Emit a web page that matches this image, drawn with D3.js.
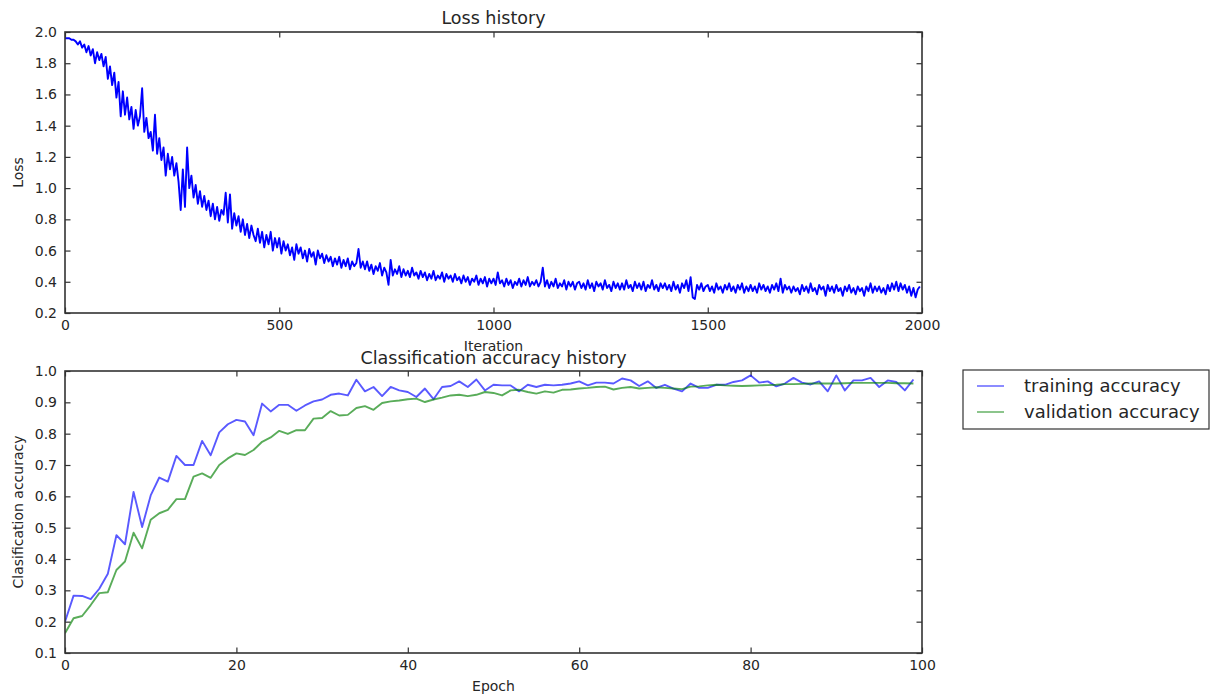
<!DOCTYPE html>
<html>
<head>
<meta charset="utf-8">
<script src="https://cdn.jsdelivr.net/npm/d3@7"></script>
<style>
  body { margin: 0; background: #fff; }
  svg text { font-family: 'DejaVu Sans', sans-serif; fill: #262626; }
</style>
</head>
<body>
<svg id="chart" width="1216" height="698"></svg>
<script>
'use strict'

// loss sampled every 5 iterations, one row per 100 iterations
const lossStep = 5
const lossHistory = [
    1.96, 1.96, 1.96, 1.95, 1.95, 1.94, 1.92, 1.94, 1.90, 1.92, 1.87, 1.91, 1.85, 1.89, 1.80, 1.87, 1.82, 1.86, 1.78, 1.84,
    1.70, 1.78, 1.66, 1.74, 1.58, 1.68, 1.46, 1.62, 1.47, 1.58, 1.44, 1.52, 1.38, 1.50, 1.40, 1.46, 1.64, 1.36, 1.45, 1.32,
    1.36, 1.24, 1.47, 1.22, 1.32, 1.18, 1.26, 1.08, 1.22, 1.12, 1.20, 1.08, 1.16, 1.04, 0.86, 1.12, 0.88, 1.26, 1.00, 1.08,
    0.94, 1.02, 0.90, 0.98, 0.88, 0.95, 0.86, 0.92, 0.82, 0.90, 0.80, 0.88, 0.79, 0.86, 0.83, 0.97, 0.78, 0.96, 0.74, 0.84,
    0.76, 0.82, 0.72, 0.80, 0.70, 0.77, 0.68, 0.76, 0.70, 0.66, 0.74, 0.65, 0.72, 0.62, 0.70, 0.64, 0.72, 0.60, 0.68, 0.62,
    0.68, 0.58, 0.66, 0.60, 0.64, 0.57, 0.62, 0.54, 0.64, 0.58, 0.62, 0.55, 0.60, 0.53, 0.61, 0.56, 0.59, 0.51, 0.60, 0.55,
    0.58, 0.52, 0.57, 0.53, 0.56, 0.50, 0.55, 0.51, 0.56, 0.49, 0.54, 0.50, 0.55, 0.48, 0.53, 0.50, 0.52, 0.61, 0.49, 0.53,
    0.48, 0.53, 0.47, 0.51, 0.45, 0.50, 0.47, 0.52, 0.44, 0.49, 0.46, 0.38, 0.54, 0.44, 0.48, 0.45, 0.50, 0.43, 0.48, 0.44,
    0.47, 0.43, 0.49, 0.44, 0.46, 0.42, 0.47, 0.43, 0.46, 0.41, 0.45, 0.42, 0.47, 0.41, 0.44, 0.42, 0.46, 0.40, 0.45, 0.42,
    0.44, 0.40, 0.45, 0.41, 0.43, 0.39, 0.44, 0.40, 0.43, 0.38, 0.42, 0.40, 0.44, 0.38, 0.42, 0.39, 0.43, 0.37, 0.42, 0.39,
    0.42, 0.38, 0.46, 0.39, 0.41, 0.37, 0.42, 0.38, 0.41, 0.36, 0.40, 0.38, 0.42, 0.37, 0.41, 0.38, 0.43, 0.37, 0.40, 0.38,
    0.41, 0.37, 0.40, 0.49, 0.37, 0.41, 0.36, 0.40, 0.37, 0.42, 0.36, 0.39, 0.37, 0.41, 0.35, 0.40, 0.37, 0.40, 0.35, 0.39,
    0.40, 0.36, 0.39, 0.35, 0.41, 0.36, 0.39, 0.34, 0.40, 0.37, 0.39, 0.35, 0.41, 0.36, 0.38, 0.34, 0.40, 0.36, 0.39, 0.35,
    0.39, 0.35, 0.41, 0.36, 0.38, 0.34, 0.40, 0.36, 0.39, 0.35, 0.40, 0.34, 0.38, 0.36, 0.41, 0.35, 0.38, 0.34, 0.39, 0.36,
    0.39, 0.35, 0.38, 0.34, 0.40, 0.35, 0.38, 0.33, 0.39, 0.36, 0.41, 0.34, 0.43, 0.30, 0.29, 0.38, 0.35, 0.39, 0.34, 0.37,
    0.38, 0.34, 0.37, 0.33, 0.39, 0.35, 0.37, 0.33, 0.38, 0.35, 0.39, 0.34, 0.37, 0.33, 0.38, 0.35, 0.39, 0.33, 0.37, 0.34,
    0.38, 0.34, 0.37, 0.33, 0.39, 0.35, 0.38, 0.34, 0.37, 0.33, 0.38, 0.35, 0.39, 0.34, 0.42, 0.33, 0.38, 0.35, 0.37, 0.33,
    0.37, 0.34, 0.36, 0.32, 0.38, 0.34, 0.37, 0.33, 0.39, 0.34, 0.36, 0.32, 0.38, 0.35, 0.37, 0.31, 0.38, 0.34, 0.37, 0.33,
    0.38, 0.34, 0.36, 0.31, 0.37, 0.34, 0.38, 0.33, 0.36, 0.32, 0.37, 0.34, 0.36, 0.31, 0.37, 0.34, 0.39, 0.33, 0.37, 0.34,
    0.37, 0.33, 0.36, 0.32, 0.38, 0.34, 0.39, 0.35, 0.40, 0.34, 0.39, 0.35, 0.38, 0.33, 0.37, 0.31, 0.36, 0.30, 0.35, 0.37
]

const trainAcc = [
    0.200, 0.283, 0.282, 0.272, 0.305, 0.353, 0.476, 0.447, 0.614, 0.502,
    0.603, 0.660, 0.647, 0.729, 0.700, 0.700, 0.777, 0.731, 0.804, 0.830,
    0.844, 0.839, 0.795, 0.896, 0.871, 0.892, 0.892, 0.873, 0.890, 0.903,
    0.909, 0.924, 0.928, 0.922, 0.972, 0.935, 0.949, 0.920, 0.949, 0.938,
    0.933, 0.917, 0.944, 0.910, 0.949, 0.952, 0.967, 0.949, 0.973, 0.938,
    0.956, 0.954, 0.954, 0.935, 0.956, 0.949, 0.956, 0.954, 0.956, 0.960,
    0.967, 0.954, 0.963, 0.963, 0.960, 0.976, 0.970, 0.952, 0.967, 0.946,
    0.956, 0.944, 0.935, 0.960, 0.946, 0.946, 0.956, 0.956, 0.965, 0.970,
    0.986, 0.963, 0.967, 0.951, 0.960, 0.978, 0.963, 0.957, 0.967, 0.935,
    0.986, 0.938, 0.970, 0.970, 0.978, 0.949, 0.970, 0.965, 0.938, 0.973
]

const valAcc = [
    0.163, 0.211, 0.218, 0.253, 0.291, 0.294, 0.365, 0.392, 0.484, 0.434,
    0.525, 0.546, 0.557, 0.591, 0.591, 0.663, 0.673, 0.659, 0.700, 0.721,
    0.737, 0.732, 0.748, 0.774, 0.788, 0.809, 0.799, 0.811, 0.811, 0.848,
    0.850, 0.872, 0.858, 0.860, 0.882, 0.888, 0.876, 0.898, 0.903, 0.906,
    0.910, 0.912, 0.901, 0.909, 0.915, 0.922, 0.924, 0.920, 0.924, 0.933,
    0.930, 0.922, 0.938, 0.940, 0.933, 0.928, 0.935, 0.931, 0.940, 0.941,
    0.944, 0.946, 0.949, 0.950, 0.941, 0.946, 0.949, 0.944, 0.946, 0.948,
    0.946, 0.944, 0.942, 0.950, 0.951, 0.954, 0.956, 0.954, 0.953, 0.952,
    0.953, 0.954, 0.955, 0.956, 0.958, 0.958, 0.959, 0.960, 0.960, 0.960,
    0.960, 0.961, 0.962, 0.962, 0.962, 0.962, 0.962, 0.961, 0.961, 0.960
]

const lossTicksX = [0, 500, 1000, 1500, 2000]
const lossTicksY = [0.2, 0.4, 0.6, 0.8, 1.0, 1.2, 1.4, 1.6, 1.8, 2.0]
const accTicksX = [0, 20, 40, 60, 80, 100]
const accTicksY = [0.1, 0.2, 0.3, 0.4, 0.5, 0.6, 0.7, 0.8, 0.9, 1.0]
const legendLabels = ['training accuracy', 'validation accuracy']

const svg = d3.select('#chart')

const left = 65,
    right = 922,
    tickLen = 5.5

function panel(opts) {
    const x = d3.scaleLinear().domain(opts.xDomain).range([left, right]),
        y = d3.scaleLinear().domain(opts.yDomain).range([opts.bottom, opts.top])

    const g = svg.append('g')

    g.append('clipPath')
        .attr('id', opts.id)
        .append('rect')
        .attr('x', left)
        .attr('y', opts.top)
        .attr('width', right - left)
        .attr('height', opts.bottom - opts.top)

    const axes = [
        [d3.axisBottom(x).tickValues(opts.xTicks).tickFormat(d3.format('d')).tickPadding(7), `translate(0,${opts.bottom})`],
        [d3.axisTop(x).tickValues(opts.xTicks).tickFormat(''), `translate(0,${opts.top})`],
        [d3.axisLeft(y).tickValues(opts.yTicks).tickFormat(d3.format('.1f')).tickPadding(8), `translate(${left},0)`],
        [d3.axisRight(y).tickValues(opts.yTicks).tickFormat(''), `translate(${right},0)`]
    ]
    axes.forEach(([axis, t]) => {
        const a = g.append('g')
            .attr('transform', t)
            .call(axis.tickSizeInner(-tickLen).tickSizeOuter(0))
        a.select('.domain').remove()
        a.selectAll('line').attr('stroke', '#333').attr('stroke-width', 1.2)
        a.selectAll('text').style('font-size', '14px').attr('fill', '#262626')
    })

    const lines = g.append('g').attr('clip-path', `url(#${opts.id})`)
    opts.series.forEach(s => {
        lines.append('path')
            .datum(s.values)
            .attr('fill', 'none')
            .attr('stroke', s.color)
            .attr('stroke-opacity', s.opacity)
            .attr('stroke-width', s.width)
            .attr('stroke-linejoin', 'round')
            .attr('d', d3.line().x((d, i) => x(i * s.step)).y(d => y(d)))
    })

    g.append('rect')
        .attr('x', left)
        .attr('y', opts.top)
        .attr('width', right - left)
        .attr('height', opts.bottom - opts.top)
        .attr('fill', 'none')
        .attr('stroke', '#333')
        .attr('stroke-width', 1.6)

    g.append('text')
        .attr('x', (left + right) / 2)
        .attr('y', opts.titleY)
        .attr('text-anchor', 'middle')
        .style('font-size', '17.5px')
        .text(opts.title)

    g.append('text')
        .attr('x', (left + right) / 2)
        .attr('y', opts.xLabelY)
        .attr('text-anchor', 'middle')
        .style('font-size', '14px')
        .text(opts.xLabel)

    g.append('text')
        .attr('transform', `translate(23,${(opts.top + opts.bottom) / 2}) rotate(-90)`)
        .attr('text-anchor', 'middle')
        .style('font-size', '14px')
        .text(opts.yLabel)

    return {x, y}
}

panel({
    id: 'clip-loss',
    top: 32,
    bottom: 313,
    xDomain: [0, 2000],
    yDomain: [0.2, 2.0],
    xTicks: lossTicksX,
    yTicks: lossTicksY,
    title: 'Loss history',
    titleY: 24,
    xLabel: 'Iteration',
    xLabelY: 351,
    yLabel: 'Loss',
    series: [{values: lossHistory, step: lossStep, color: '#0000ff', opacity: 1, width: 1.9}]
})

const accColors = ['#0000ff', '#008000']

panel({
    id: 'clip-acc',
    top: 371,
    bottom: 653,
    xDomain: [0, 100],
    yDomain: [0.1, 1.0],
    xTicks: accTicksX,
    yTicks: accTicksY,
    title: 'Classification accuracy history',
    titleY: 364,
    xLabel: 'Epoch',
    xLabelY: 691,
    yLabel: 'Clasification accuracy',
    series: [
        {values: trainAcc, step: 1, color: accColors[0], opacity: 0.65, width: 1.9},
        {values: valAcc, step: 1, color: accColors[1], opacity: 0.65, width: 1.9}
    ]
})

const legend = svg.append('g').attr('transform', 'translate(963,370)')

legend.append('rect')
    .attr('width', 246)
    .attr('height', 59)
    .attr('fill', '#fff')
    .attr('stroke', '#333')
    .attr('stroke-width', 1.2)

const item = legend.selectAll('g.item')
    .data(legendLabels)
    .enter()
    .append('g')
    .attr('class', 'item')
    .attr('transform', (d, i) => `translate(0,${16 + i * 26})`)

item.append('line')
    .attr('x1', 14)
    .attr('x2', 41)
    .attr('stroke', (d, i) => accColors[i])
    .attr('stroke-opacity', 0.5)
    .attr('stroke-width', 1.8)

item.append('text')
    .attr('x', 61)
    .attr('dy', '0.35em')
    .style('font-size', '18px')
    .text(d => d)
</script>
</body>
</html>
